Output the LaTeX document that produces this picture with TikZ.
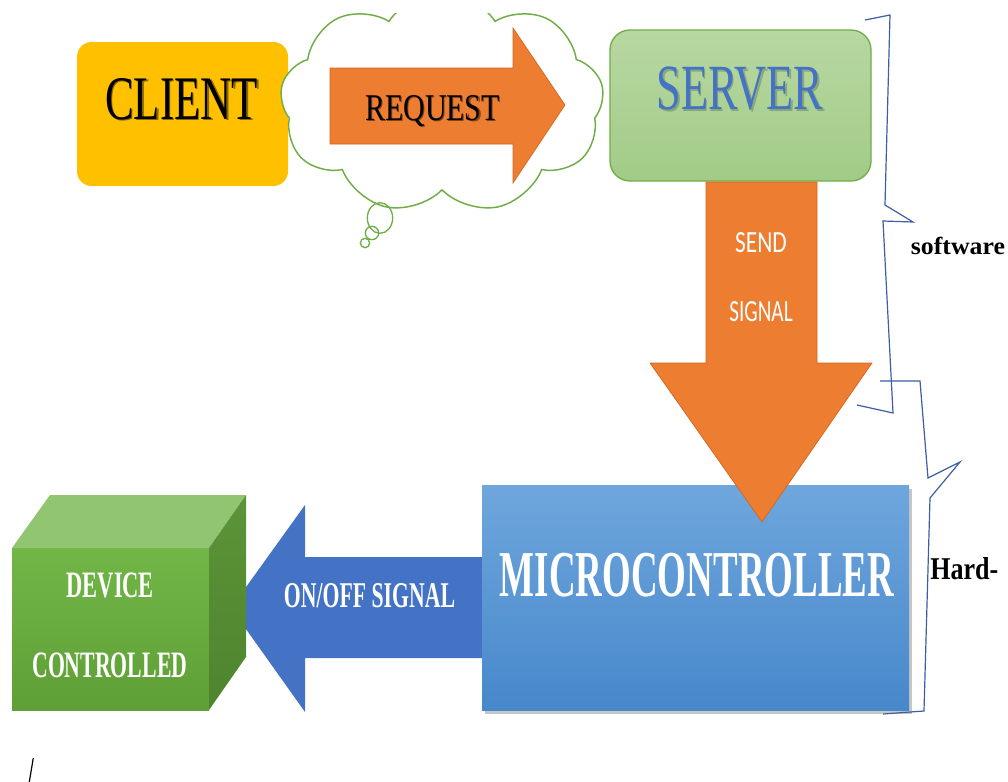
\documentclass[tikz,border=0pt]{standalone}
\usepackage{fontspec}
\usepackage{graphicx}
\setmainfont{Liberation Serif}
\newfontfamily\calib{Carlito}
\usetikzlibrary{shapes.symbols,shadows}
\definecolor{clientc}{HTML}{FFC000}
\definecolor{orangec}{HTML}{ED7D31}
\definecolor{orangeln}{HTML}{D0651F}
\definecolor{servtop}{HTML}{B7D8A2}
\definecolor{servbot}{HTML}{A2CB87}
\definecolor{greenln}{HTML}{70AD47}
\definecolor{servtxt}{HTML}{4472C4}
\definecolor{bluearr}{HTML}{4472C4}
\definecolor{microtop}{HTML}{6FA6DD}
\definecolor{microbot}{HTML}{4788CB}
\definecolor{cubefront1}{HTML}{72B647}
\definecolor{cubefront2}{HTML}{5E9F36}
\definecolor{cubetop}{HTML}{92C572}
\definecolor{cuberight1}{HTML}{5C9438}
\definecolor{cuberight2}{HTML}{4E842E}
\definecolor{bracec}{HTML}{3B5EA6}
\tikzset{
  lbl/.style={inner sep=0pt, anchor=base},
  lblw/.style={inner sep=0pt, anchor=base west},
  txtshadow/.style={inner sep=0pt, anchor=base, text=black, opacity=0.45},
  bracepath/.style={draw=bracec, line width=0.9pt, line join=miter},
  orangearrow/.style={fill=orangec, draw=orangeln, line width=0.5pt},
}
\begin{document}
\begin{tikzpicture}[x=0.75pt,y=-0.75pt]
\useasboundingbox (0,0) rectangle (1008,782);

% CLIENT
\fill[clientc, rounded corners=11pt] (77,42) rectangle (288,186);
\node (clients) [txtshadow] at (183,120.5) {\resizebox{114.75pt}{30.75pt}{CLIENT}};
\node (clientt) [lbl] at (181.5,119) {\resizebox{114.75pt}{30.75pt}{CLIENT}};

% cloud
\begin{scope}
\clip (0,13) rectangle (1008,782);
\node (cloud) [cloud, draw=greenln, fill=white, line width=1.1pt, cloud puffs=9, cloud puff arc=115, cloud ignores aspect, minimum width=243pt, minimum height=166pt, inner sep=0pt] at (442,103) {};
\end{scope}
\draw[greenln, line width=1pt] (380,218) ellipse [x radius=9.5pt, y radius=11.5pt];
\draw[greenln, line width=1pt] (372,233) circle [radius=5pt];
\draw[greenln, line width=1pt] (365,243) circle [radius=3.5pt];

% REQUEST arrow
\path[orangearrow] (330,68) -- (513,68) -- (513,28) -- (565,105) -- (513,183) -- (513,144) -- (330,144) -- cycle;
\node (reqs) [txtshadow] at (433.7,121.2) {\resizebox{101.25pt}{18.75pt}{REQUEST}};
\node (reqt) [lbl] at (432.5,120) {\resizebox{101.25pt}{18.75pt}{REQUEST}};

% SERVER
\path[top color=servtop, bottom color=servbot, draw=greenln, line width=1pt, rounded corners=15pt] (610,30) rectangle (871,181);
\node (servs) [txtshadow, opacity=0.2] at (741.5,111) {\resizebox{125pt}{32pt}{SERVER}};
\node (servt) [lbl, text=servtxt] at (740,109.5) {\resizebox{125pt}{32pt}{SERVER}};

% ON/OFF arrow
\path[fill=bluearr] (485,557) -- (305,557) -- (305,505) -- (231,608) -- (305,712) -- (305,658) -- (485,658) -- cycle;
\node (onofft) [lbl, text=white] at (369.5,607) {\resizebox{128.25pt}{18pt}{\bfseries ON/OFF SIGNAL}};

% MICROCONTROLLER
\path[top color=microtop, bottom color=microbot, drop shadow={shadow xshift=2pt, shadow yshift=-3pt, opacity=0.45}] (482,485) rectangle (909,710);
\node (microt) [lbl, text=white] at (697,596) {\resizebox{295.5pt}{32.5pt}{\bfseries MICROCONTROLLER}};

% SEND SIGNAL arrow
\path[orangearrow] (706,182) -- (817,182) -- (817,363) -- (872,363) -- (762,522) -- (650,363) -- (706,363) -- cycle;
\node (sendt) [lbl, text=white] at (761,252.3) {\resizebox{38.8pt}{15pt}{\calib SEND}};
\node (signalt) [lbl, text=white] at (761,321.7) {\resizebox{47.5pt}{15pt}{\calib SIGNAL}};

% cube
\path[top color=cubefront1, bottom color=cubefront2] (12,548) rectangle (209,710);
\fill[cubetop] (12,548) -- (50,495) -- (246,495) -- (209,548) -- cycle;
\path[top color=cuberight1, bottom color=cuberight2] (209,548) -- (246,495) -- (246,657) -- (209,710) -- cycle;
\node (devt) [lbl, text=white] at (110.3,597.3) {\resizebox{65.5pt}{18.5pt}{\bfseries DEVICE}};
\node (contt) [lbl, text=white] at (109.8,677.3) {\resizebox{116.25pt}{18.5pt}{\bfseries CONTROLLED}};

% braces
\draw[bracepath] (865,20) -- (890,15) -- (885,205) -- (913,222) -- (883,221) -- (893,413) -- (857,405);
\draw[bracepath] (880,381) -- (920,381) -- (928,478) -- (960,462) -- (930,498) -- (924,711) -- (883,714);
\node (softt) [lblw] at (910.7,254) {\resizebox{70.5pt}{13pt}{\bfseries software}};
\node (hardt) [lblw] at (930,579) {\resizebox{51pt}{16.5pt}{\bfseries Hard-}};

% stray mark
\draw[black, line width=0.9pt] (33.3,758) -- (29.3,782);
\end{tikzpicture}
\end{document}
